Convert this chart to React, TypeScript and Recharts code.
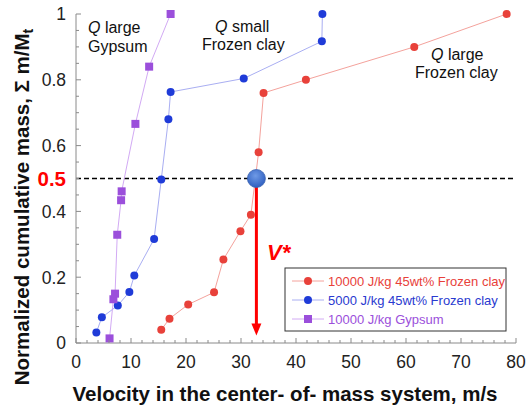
import {
  LineChart,
  Line,
  XAxis,
  YAxis,
  ReferenceLine,
  ReferenceDot,
} from "recharts";

// cumulative mass vs velocity
const redX = [15.5, 17.0, 20.4, 25.1, 26.8, 29.9, 31.8, 33.2, 34.1, 41.8, 61.5, 78.3];
const redY = [0.04, 0.074, 0.117, 0.154, 0.254, 0.34, 0.39, 0.58, 0.76, 0.8, 0.9, 1.0];

const blueX = [3.7, 4.7, 7.6, 9.7, 10.6, 14.2, 15.5, 16.8, 17.2, 30.5, 44.7, 44.8];
const blueY = [0.032, 0.078, 0.114, 0.155, 0.205, 0.316, 0.497, 0.68, 0.763, 0.804, 0.917, 1.0];

const purpleX = [6.1, 6.8, 7.1, 7.5, 8.2, 8.3, 10.8, 13.3, 17.2];
const purpleY = [0.014, 0.133, 0.15, 0.329, 0.434, 0.461, 0.666, 0.84, 1.0];

const vStar = 32.8;
const halfMass = 0.5;

const xTicks = [
  0, 2, 4, 6, 8, 10, 12, 14, 16, 18, 20, 22, 24, 26, 28, 30, 32, 34, 36, 38, 40,
  42, 44, 46, 48, 50, 52, 54, 56, 58, 60, 62, 64, 66, 68, 70, 72, 74, 76, 78, 80,
];
const xLabels = [0, 10, 20, 30, 40, 50, 60, 70, 80];
const yTicks = [
  0, 0.05, 0.1, 0.15, 0.2, 0.25, 0.3, 0.35, 0.4, 0.45, 0.5, 0.55, 0.6, 0.65, 0.7,
  0.75, 0.8, 0.85, 0.9, 0.95, 1,
];
const yLabels = [0, 0.2, 0.4, 0.6, 0.8, 1];

const legendNames = [
  "10000 J/kg 45wt% Frozen clay",
  "5000 J/kg 45wt% Frozen clay",
  "10000 J/kg Gypsum",
];

const toPoints = (xs: number[], ys: number[]) => xs.map((x, i) => ({ x, y: ys[i] }));

const redData = toPoints(redX, redY);
const blueData = toPoints(blueX, blueY);
const purpleData = toPoints(purpleX, purpleY);

const FONT = "'Liberation Sans', Arial, Helvetica, sans-serif";
const FRAME = "#8a8a8a";

const isIn = (arr: number[], v: number) => arr.some((a) => Math.abs(a - v) < 1e-6);

const BottomTick = (props: any) => {
  const { x, y, payload } = props;
  const major = isIn(xLabels, payload.value);
  return (
    <g>
      <line x1={x} x2={x} y1={y} y2={y - (major ? 5 : 3)} stroke={FRAME} />
      {major && (
        <text x={x} y={y + 25} textAnchor="middle" fontSize={17.5} fill="#222" fontFamily={FONT}>
          {payload.value}
        </text>
      )}
    </g>
  );
};

const TopTick = (props: any) => {
  const { x, y, payload } = props;
  const major = isIn(xLabels, payload.value);
  return <line x1={x} x2={x} y1={y} y2={y + (major ? 5 : 3)} stroke={FRAME} />;
};

const LeftTick = (props: any) => {
  const { x, y, payload } = props;
  const v = payload.value;
  const major = isIn(yLabels, v);
  const half = Math.abs(v - halfMass) < 1e-6;
  return (
    <g>
      <line x1={x} x2={x + (major ? 5 : 3)} y1={y} y2={y} stroke={FRAME} />
      {major && (
        <text x={x - 10} y={y} dy="0.36em" textAnchor="end" fontSize={17.5} fill="#222" fontFamily={FONT}>
          {String(v)}
        </text>
      )}
      {half && (
        <text x={x - 10} y={y} dy="0.36em" textAnchor="end" fontSize={20.5} fontWeight="bold" fill="#ff0000" fontFamily={FONT}>
          {String(v)}
        </text>
      )}
    </g>
  );
};

const RightTick = (props: any) => {
  const { x, y, payload } = props;
  const major = isIn(yLabels, payload.value);
  return <line x1={x} x2={x - (major ? 5 : 3)} y1={y} y2={y} stroke={FRAME} />;
};

const SquareDot = (props: any) => {
  const { cx, cy, fill } = props;
  if (cx == null || cy == null) return <g />;
  return <rect x={cx - 4} y={cy - 4} width={8} height={8} fill={fill} />;
};

const ArrowHead = (props: any) => {
  const { cx, cy } = props;
  return <path d={`M${cx},${cy} L${cx - 5},${cy - 12} L${cx + 5},${cy - 12} Z`} fill="#ff0000" />;
};

const Ball = (props: any) => {
  const { cx, cy } = props;
  return (
    <g>
      <defs>
        <radialGradient id="ballGrad" cx="45%" cy="35%" r="65%">
          <stop offset="0%" stopColor="#6f9ae6" />
          <stop offset="100%" stopColor="#2f5fc0" />
        </radialGradient>
      </defs>
      <circle cx={cx} cy={cy} r={9} fill="url(#ballGrad)" stroke="#3a62b0" strokeWidth={0.8} />
    </g>
  );
};

const series = [
  { data: redData, line: "#f4a29c", mark: "#e8413a", text: "#e8413a", square: false },
  { data: blueData, line: "#a9aef2", mark: "#1f3bd8", text: "#2a3ad0", square: false },
  { data: purpleData, line: "#d2aaf4", mark: "#9b4fdb", text: "#9b4fdb", square: true },
];

export default function App() {
  return (
    <div style={{ position: "absolute", left: 0, top: 0, width: 526, height: 409, background: "#fff" }}>
      <LineChart width={526} height={409} margin={{ top: 14, right: 10, bottom: 0, left: 0 }}>
        <XAxis
          dataKey="x"
          type="number"
          domain={[0, 80]}
          ticks={xTicks}
          interval={0}
          height={66}
          tickSize={0}
          tickMargin={0}
          tickLine={false}
          axisLine={{ stroke: FRAME }}
          tick={<BottomTick />}
        />
        <XAxis
          xAxisId="top"
          orientation="top"
          dataKey="x"
          type="number"
          domain={[0, 80]}
          ticks={xTicks}
          interval={0}
          height={0}
          tickSize={0}
          tickMargin={0}
          tickLine={false}
          axisLine={{ stroke: FRAME }}
          tick={<TopTick />}
        />
        <YAxis
          type="number"
          domain={[0, 1]}
          ticks={yTicks}
          interval={0}
          width={76}
          tickSize={0}
          tickMargin={0}
          tickLine={false}
          axisLine={{ stroke: FRAME }}
          tick={<LeftTick />}
        />
        <YAxis
          yAxisId="right"
          orientation="right"
          type="number"
          domain={[0, 1]}
          ticks={yTicks}
          interval={0}
          width={0}
          tickSize={0}
          tickMargin={0}
          tickLine={false}
          axisLine={{ stroke: FRAME }}
          tick={<RightTick />}
        />
        <ReferenceLine y={halfMass} stroke="#000" strokeDasharray="5 3" strokeWidth={1.3} />
        {series.map((s, i) => (
          <Line
            key={i}
            data={s.data}
            dataKey="y"
            type="linear"
            stroke={s.line}
            strokeWidth={1}
            isAnimationActive={false}
            dot={s.square ? <SquareDot fill={s.mark} /> : { r: 4, fill: s.mark, stroke: "none" }}
            activeDot={false}
          />
        ))}
        <ReferenceLine
          segment={[
            { x: vStar, y: halfMass },
            { x: vStar, y: 0.05 },
          ]}
          stroke="#ff0000"
          strokeWidth={3}
        />
        <ReferenceDot x={vStar} y={0.023} r={5} shape={<ArrowHead />} />
        <ReferenceDot x={vStar} y={halfMass} r={9} shape={<Ball />} />
      </LineChart>

      <svg
        width={526}
        height={409}
        style={{ position: "absolute", left: 0, top: 0, pointerEvents: "none" }}
        fontFamily={FONT}
      >
        {/* axis titles */}
        <text x={285} y={401} textAnchor="middle" fontSize={20.5} fontWeight="bold" fill="#111">
          Velocity in the center- of- mass system, m/s
        </text>
        <text
          transform="translate(29,207) rotate(-90)"
          textAnchor="middle"
          fontSize={20.5}
          fontWeight="bold"
          fill="#111"
        >
          Normalized cumulative mass, Σ m/M
          <tspan fontSize={14} dy={4}>t</tspan>
        </text>

        {/* annotations */}
        <text x={88} y={33} fontSize={16} fill="#111">
          <tspan fontStyle="italic">Q</tspan> large
        </text>
        <text x={88} y={52} fontSize={16} fill="#111">Gypsum</text>
        <text x={215} y={32} fontSize={16} fill="#111">
          <tspan fontStyle="italic">Q</tspan>  small
        </text>
        <text x={202} y={50} fontSize={16} fill="#111">Frozen clay</text>
        <text x={431} y={60} fontSize={16} fill="#111">
          <tspan fontStyle="italic">Q</tspan> large
        </text>
        <text x={415} y={78} fontSize={16} fill="#111">Frozen clay</text>
        <text x={267} y={260} fontSize={22} fontWeight="bold" fontStyle="italic" fill="#ff0000">V*</text>

        {/* legend */}
        <rect x={285} y={268} width={221} height={63} fill="#fff" stroke="#333" strokeWidth={1} />
        {series.map((s, i) => {
          const cy = 281 + i * 19;
          return (
            <g key={i}>
              <line x1={292} x2={324} y1={cy} y2={cy} stroke={s.line} strokeWidth={1} />
              {s.square ? (
                <rect x={304} y={cy - 4} width={8} height={8} fill={s.mark} />
              ) : (
                <circle cx={308} cy={cy} r={4} fill={s.mark} />
              )}
              <text x={328} y={cy} dy="0.35em" fontSize={13} fill={s.text}>
                {legendNames[i]}
              </text>
            </g>
          );
        })}
      </svg>
    </div>
  );
}
